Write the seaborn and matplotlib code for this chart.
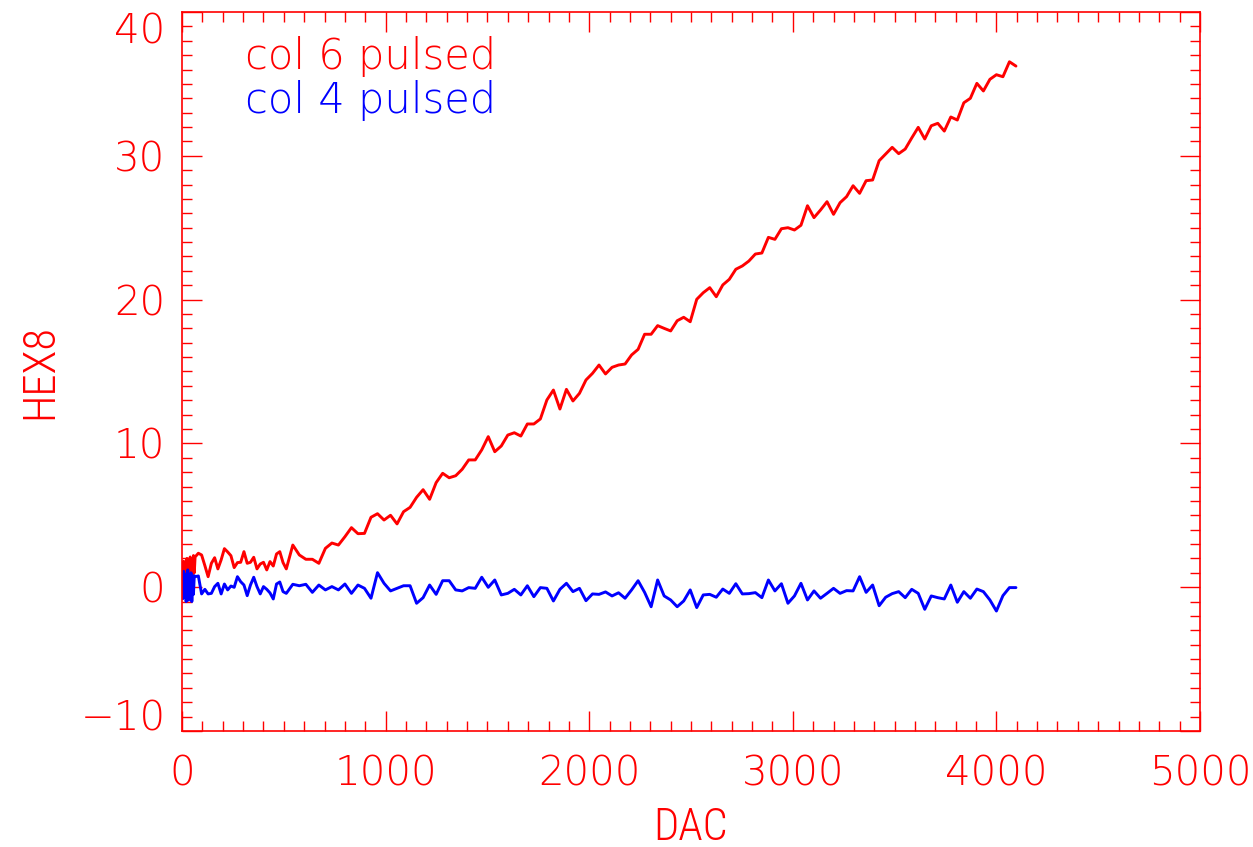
import numpy as np
import pandas as pd
import matplotlib
matplotlib.use('Agg')
import matplotlib.pyplot as plt
import seaborn as sns
from matplotlib.ticker import MultipleLocator

# DAC scan grid: dense near zero, then 16 and 32 count steps
dac_dense = np.arange(0, 64, 4)
dac_fine = np.arange(64, 513, 16)
dac_coarse = np.arange(544, 4097, 32)

# col 6 pulsed (red)
col6_dense = [1.2, 0.6, 1.8, 0.4, 1.5, 0.5, 2.0, 0.3, 1.7, 0.6, 2.1, 0.7, 1.4, 0.9, 2.2, 1.0]
col6_fine = [2.1, 2.36, 2.24, 1.5, 0.73, 1.66, 2.05, 1.27, 1.9, 2.68, 2.45, 2.19, 1.36, 1.71,
             1.73, 2.47, 1.66, 1.73, 2.08, 1.27, 1.61, 1.73, 1.20, 1.78, 1.47, 2.31, 2.47,
             1.71, 1.27]
col6_coarse = [2.93, 2.24, 1.94, 1.94, 1.66, 2.70, 3.07, 2.93, 3.51, 4.14, 3.72, 3.74, 4.86,
               5.11, 4.67, 5.00, 4.40, 5.25, 5.55, 6.25, 6.78, 6.11, 7.27, 7.92, 7.61, 7.75,
               8.20, 8.85, 8.85, 9.55,
               10.47, 9.42, 9.82, 10.58, 10.74, 10.51, 11.35, 11.35, 11.70, 13.02, 13.71,
               12.39, 13.76, 12.95, 13.48, 14.41, 14.87, 15.45, 14.83, 15.29, 15.45, 15.52,
               16.15, 16.54, 17.59, 17.59, 18.19, 18.00, 17.82, 18.53, 18.77, 18.46, 20.02,
               20.48, 20.83, 20.20, 21.02, 21.41, 22.11, 22.34, 22.68, 23.17, 23.24,
               24.33, 24.19, 24.93, 25.00, 24.84, 25.17, 26.53, 25.70, 26.23, 26.81, 25.93,
               26.74, 27.16, 27.92, 27.39, 28.27, 28.32, 29.66, 30.12, 30.59, 30.15, 30.47,
               31.24, 31.98, 31.17, 32.09, 32.26, 31.72, 32.70, 32.49, 33.69, 34.00, 35.04,
               34.51, 35.32, 35.64, 35.50, 36.54, 36.24]

# col 4 pulsed (blue)
col4_dense = [0.5, -0.8, 1.1, -0.6, 0.9, -1.0, 0.3, 1.2, -0.9, 0.6, -0.7, 1.0, -1.0, 0.4, -0.5, 0.8]
col4_fine = [0.73, 0.78, -0.47, -0.15, -0.47, -0.43, 0.04, 0.27, -0.47, 0.22, -0.19, 0.08,
             -0.01, 0.73, 0.38, 0.15, -0.59, 0.15, 0.69, 0.04, -0.47, 0.04, -0.15, -0.40,
             -0.82, 0.22, 0.36, -0.31, -0.43]
col4_coarse = [0.20, 0.10, 0.20, -0.36, 0.15, -0.19, 0.04, -0.19, 0.22, -0.43, 0.15, -0.08,
               -0.77, 1.01, 0.27, -0.26, -0.08, 0.10, 0.10, -1.12, -0.73, 0.15, -0.50, 0.45,
               0.45, -0.19, -0.26, -0.03, -0.08, 0.69, -0.01, 0.50, -0.54, -0.43, -0.15,
               -0.54, 0.10, -0.66, -0.03, -0.08, -0.96, -0.15, 0.27, -0.31, -0.08, -0.94,
               -0.47, -0.50, -0.33, -0.61, -0.39,
               -0.77, -0.19, 0.45, -0.36, -1.36, 0.50, -0.61, -0.89, -1.36, -0.96, -0.19,
               -1.42, -0.54, -0.50, -0.70, -0.13, -0.43, 0.24, -0.47, -0.45, -0.38, -0.73,
               0.50, -0.26, 0.24, -1.12, -0.61, 0.27, -0.89, -0.26, -0.77, -0.43, -0.08,
               -0.43, -0.24, -0.26, 0.73, -0.36, 0.15, -1.29, -0.70, -0.45, -0.31, -0.73,
               -0.15, -0.43, -1.54, -0.61, -0.73, -0.82, 0.15, -1.05, -0.31, -0.77, -0.13,
               -0.31, -0.89, -1.66, -0.59, -0.03, -0.03]

labels = ['col 6 pulsed', 'col 4 pulsed']
colors = ['#ff0000', '#0000ff']
x_ticks = [0, 1000, 2000, 3000, 4000, 5000]
y_ticks = [-10, 0, 10, 20, 30, 40]

dac = np.concatenate([dac_dense, dac_fine, dac_coarse])
df = pd.concat([
    pd.DataFrame({'DAC': dac, 'HEX8': col6_dense + col6_fine + col6_coarse, 'series': labels[0]}),
    pd.DataFrame({'DAC': dac, 'HEX8': col4_dense + col4_fine + col4_coarse, 'series': labels[1]}),
])

sns.set_style('ticks')
plt.rcParams['font.family'] = ['DejaVu Sans']
narrow = ['Roboto Condensed', 'Open Sans Condensed', 'DejaVu Sans']

red = colors[0]
fig = plt.figure(figsize=(12.53, 8.47), dpi=100)
ax = fig.add_axes([0.1453, 0.137, 0.8124, 0.8488])

sns.lineplot(data=df, x='DAC', y='HEX8', hue='series', hue_order=labels,
             palette=colors, estimator=None, sort=False, linewidth=2.1,
             legend=False, ax=ax)

ax.set_xlim(0, 5000)
ax.set_ylim(-10, 40)
ax.set_xticks(x_ticks)
ax.set_yticks(y_ticks)
ax.xaxis.set_minor_locator(MultipleLocator(100))
ax.yaxis.set_minor_locator(MultipleLocator(1))
ax.set_xticklabels([str(t) for t in x_ticks])
ax.set_yticklabels(['\u221210' if t < 0 else str(t) for t in y_ticks])

ax.tick_params(which='both', direction='in', top=True, right=True, colors=red,
               width=1.0, labelcolor=red)
ax.tick_params(which='major', length=14.5)
ax.tick_params(which='minor', length=7.2)
ax.tick_params(axis='x', which='major', pad=17)
ax.tick_params(axis='y', which='major', pad=12)
for lab in ax.get_xticklabels() + ax.get_yticklabels():
    lab.set_fontsize(29)
    lab.set_fontweight('light')
# end labels sit inside the axis range, as IDL draws them
ytl = ax.get_yticklabels()
ytl[-1].set_verticalalignment('top')
ytl[0].set_verticalalignment('baseline')
for s in ax.spines.values():
    s.set_color(red)
    s.set_linewidth(1.2)

ax.set_xlabel('DAC', color=red, fontsize=32, labelpad=9, family=narrow, fontweight='light')
ax.set_ylabel('HEX8', color=red, fontsize=32, labelpad=14, family=narrow, fontweight='light')

# legend written as coloured text, as in the original
for i in range(2):
    ax.text(0.062, 0.921 - i * 0.0615, labels[i], color=colors[i], fontsize=30,
            fontweight='light', transform=ax.transAxes)

fig.savefig('out.png', dpi=100)
